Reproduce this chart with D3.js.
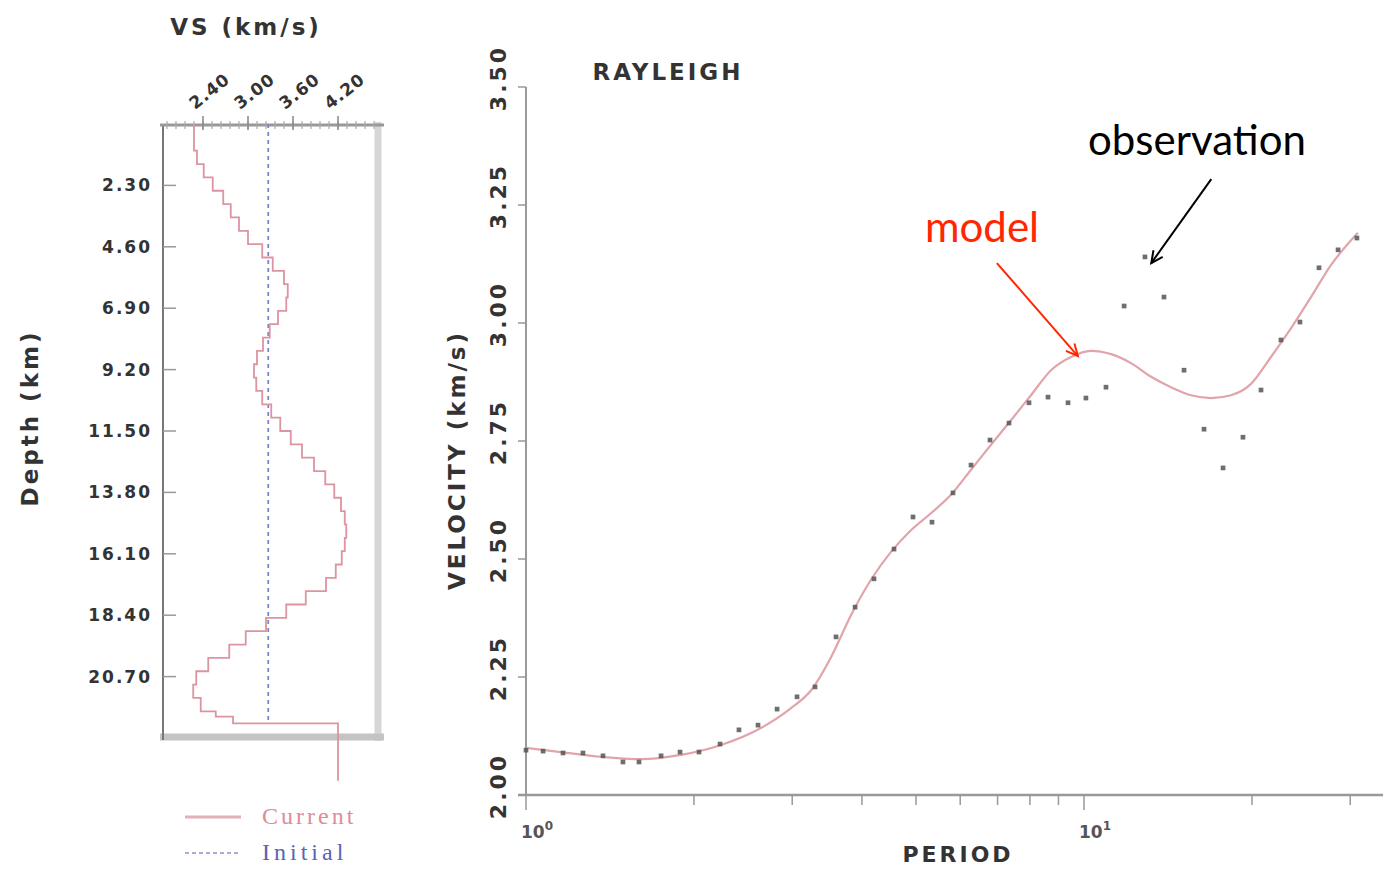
<!DOCTYPE html>
<meta charset="utf-8">
<script src="https://d3js.org/d3.v7.min.js"></script>
<style>
  body { margin: 0; background: #fff; }
</style>

<div id="my_dataviz"></div>
<script>

  // ---- left panel : VS profile (layer tops in km, velocity in km/s)
  var layerTop = [0, 0.5, 1, 1.5, 2, 2.5, 3, 3.5, 4, 4.5, 5, 5.5, 6, 6.5, 7, 7.5, 8, 8.5, 9, 9.5,
    10, 10.5, 11, 11.5, 12, 12.5, 13, 13.5, 14, 14.5, 15, 15.5, 16, 16.5, 17, 17.5, 18, 18.5,
    19, 19.5, 20, 20.5, 21, 21.5, 22, 22.2, 22.45];
  var vsCurrent = [2.28, 2.28, 2.32, 2.41, 2.53, 2.67, 2.77, 2.88, 3.00, 3.19, 3.33, 3.48, 3.53, 3.51,
    3.40, 3.29, 3.20, 3.12, 3.08, 3.11, 3.19, 3.31, 3.43, 3.57, 3.72, 3.88, 4.03, 4.15, 4.24, 4.29,
    4.31, 4.29, 4.25, 4.17, 4.04, 3.77, 3.51, 3.24, 2.97, 2.75, 2.47, 2.31, 2.27, 2.37, 2.57, 2.80, 4.20];
  var halfspaceBottom = 24.6;
  var vsInitial = 3.27;
  var initialBottom = 22.45;
  var vsTicks = [2.40, 3.00, 3.60, 4.20];
  var depthTicks = [2.3, 4.6, 6.9, 9.2, 11.5, 13.8, 16.1, 18.4, 20.7];

  // ---- right panel : Rayleigh dispersion curve
  var obsPeriod = [1.00, 1.073, 1.165, 1.265, 1.374, 1.492, 1.594, 1.746, 1.888, 2.042, 2.227, 2.408,
    2.605, 2.818, 3.060, 3.296, 3.594, 3.888, 4.204, 4.566, 4.938, 5.341, 5.824, 6.274, 6.785,
    7.338, 7.969, 8.620, 9.362, 10.08, 10.95, 11.80, 12.86, 13.91, 15.11, 16.41, 17.75, 19.27,
    20.76, 22.54, 24.38, 26.37, 28.53, 30.84];
  var obsVel = [2.095, 2.093, 2.089, 2.089, 2.083, 2.070, 2.070, 2.083, 2.091, 2.091, 2.108, 2.138,
    2.148, 2.182, 2.208, 2.229, 2.335, 2.398, 2.458, 2.521, 2.589, 2.578, 2.640, 2.699, 2.752,
    2.788, 2.831, 2.843, 2.831, 2.841, 2.864, 3.036, 3.140, 3.055, 2.900, 2.775, 2.693, 2.758,
    2.858, 2.964, 3.002, 3.117, 3.155, 3.180];
  var modelPeriod = [1.00, 1.155, 1.363, 1.607, 1.896, 2.236, 2.637, 2.985, 3.243, 3.521, 3.823, 4.152,
    4.509, 4.897, 5.318, 5.775, 6.274, 6.813, 7.399, 8.035, 8.729, 9.478, 10.29, 11.18, 12.14,
    13.19, 14.32, 15.55, 16.89, 18.34, 19.92, 21.63, 23.50, 25.52, 27.72, 30.97];
  var modelVel = [2.100, 2.091, 2.081, 2.076, 2.085, 2.106, 2.142, 2.184, 2.222, 2.292, 2.381, 2.456,
    2.515, 2.561, 2.597, 2.636, 2.689, 2.742, 2.794, 2.847, 2.900, 2.928, 2.941, 2.934, 2.915,
    2.886, 2.864, 2.847, 2.841, 2.847, 2.871, 2.928, 2.989, 3.055, 3.123, 3.191];
  var periodTicks = [1, 2, 3, 4, 5, 6, 7, 8, 9, 10, 20, 30];
  var velTicks = [2.00, 2.25, 2.50, 2.75, 3.00, 3.25, 3.50];

  var W = 1383, H = 869;
  var svg = d3.select("#my_dataviz")
    .append("svg")
    .attr("width", W)
    .attr("height", H)
    .style("font-family", "DejaVu Sans");

  svg.append("rect").attr("width", W).attr("height", H).attr("fill", "#fff");

  // =================== LEFT PANEL ===================
  var xVs = d3.scaleLinear().domain([1.867, 4.773]).range([163, 381]);
  var yDep = d3.scaleLinear().domain([0, 23]).range([124, 738]);

  var left = svg.append("g");

  // frame: light shaded right and bottom edges, darker left and top
  left.append("line").attr("x1", 378).attr("x2", 378).attr("y1", 122).attr("y2", 741)
    .attr("stroke", "#d6d6d6").attr("stroke-width", 7);
  left.append("line").attr("x1", 160).attr("x2", 384).attr("y1", 737).attr("y2", 737)
    .attr("stroke", "#c4c4c4").attr("stroke-width", 7);
  left.append("line").attr("x1", 163).attr("x2", 163).attr("y1", 124).attr("y2", 740)
    .attr("stroke", "#777").attr("stroke-width", 2);
  left.append("line").attr("x1", 160).attr("x2", 384).attr("y1", 125).attr("y2", 125)
    .attr("stroke", "#999").attr("stroke-width", 3);

  // top axis: minor + major ticks
  var minor = d3.range(1.92, 4.75, 0.12);
  left.selectAll(".minx").data(minor).enter().append("line")
    .attr("x1", function (d) { return xVs(d); }).attr("x2", function (d) { return xVs(d); })
    .attr("y1", 121).attr("y2", 129).attr("stroke", "#aaa").attr("stroke-width", 1.2);
  left.selectAll(".majx").data(vsTicks).enter().append("line")
    .attr("x1", function (d) { return xVs(d); }).attr("x2", function (d) { return xVs(d); })
    .attr("y1", 116).attr("y2", 130).attr("stroke", "#888").attr("stroke-width", 1.5);
  left.selectAll(".labx").data(vsTicks).enter().append("text")
    .attr("transform", function (d) { return "translate(" + (xVs(d) - 8) + ",110) rotate(-38)"; })
    .attr("font-size", 17).attr("font-weight", "bold").attr("letter-spacing", 1)
    .attr("fill", "#333")
    .text(function (d) { return d.toFixed(2); });

  left.append("text").attr("x", 246).attr("y", 35).attr("text-anchor", "middle")
    .attr("font-size", 23).attr("font-weight", "bold").attr("letter-spacing", 3)
    .attr("fill", "#333").text("VS (km/s)");

  // depth axis
  left.selectAll(".ticky").data(depthTicks).enter().append("line")
    .attr("x1", 163).attr("x2", 176)
    .attr("y1", function (d) { return yDep(d); }).attr("y2", function (d) { return yDep(d); })
    .attr("stroke", "#999").attr("stroke-width", 1.5);
  left.selectAll(".laby").data(depthTicks).enter().append("text")
    .attr("x", 152).attr("y", function (d) { return yDep(d) + 6; })
    .attr("text-anchor", "end")
    .attr("font-size", 17).attr("font-weight", "bold").attr("letter-spacing", 2)
    .attr("fill", "#333")
    .text(function (d) { return d.toFixed(2); });

  left.append("text").attr("transform", "translate(38,418) rotate(-90)")
    .attr("text-anchor", "middle")
    .attr("font-size", 23).attr("font-weight", "bold").attr("letter-spacing", 3)
    .attr("fill", "#333").text("Depth (km)");

  // initial model (dashed)
  left.append("line")
    .attr("x1", xVs(vsInitial)).attr("x2", xVs(vsInitial))
    .attr("y1", yDep(0)).attr("y2", yDep(initialBottom))
    .attr("stroke", "#7c86cc").attr("stroke-width", 1.8)
    .attr("stroke-dasharray", "4,4");

  // current model (staircase)
  var prof = layerTop.map(function (d, i) { return [vsCurrent[i], d]; });
  prof.push([vsCurrent[vsCurrent.length - 1], halfspaceBottom]);
  var stepLine = d3.line()
    .x(function (d) { return xVs(d[0]); })
    .y(function (d) { return yDep(d[1]); })
    .curve(d3.curveStepBefore);
  left.append("path").datum(prof)
    .attr("fill", "none").attr("stroke", "#dc95a0").attr("stroke-width", 1.8)
    .attr("d", stepLine);

  // legend
  left.append("line").attr("x1", 185).attr("x2", 241).attr("y1", 817).attr("y2", 817)
    .attr("stroke", "#e2b0b6").attr("stroke-width", 3);
  left.append("text").attr("x", 262).attr("y", 824)
    .attr("font-family", "Liberation Serif").attr("font-size", 24).attr("letter-spacing", 3)
    .attr("fill", "#dc8c9a").text("Current");
  left.append("line").attr("x1", 185).attr("x2", 241).attr("y1", 853).attr("y2", 853)
    .attr("stroke", "#8a92c8").attr("stroke-width", 1.5).attr("stroke-dasharray", "4,3");
  left.append("text").attr("x", 262).attr("y", 860)
    .attr("font-family", "Liberation Serif").attr("font-size", 24).attr("letter-spacing", 4)
    .attr("fill", "#5a64b2").text("Initial");

  // =================== RIGHT PANEL ===================
  var xP = d3.scaleLog().domain([1, 40]).range([526, 526 + 558 * Math.log10(40)]);
  var yV = d3.scaleLinear().domain([2.0, 3.5]).range([795, 87]);

  var right = svg.append("g");

  right.append("line").attr("x1", 526).attr("x2", 526).attr("y1", yV(3.5)).attr("y2", 796)
    .attr("stroke", "#999").attr("stroke-width", 2);
  right.append("line").attr("x1", 518).attr("x2", W).attr("y1", 795).attr("y2", 795)
    .attr("stroke", "#999").attr("stroke-width", 2.5);

  right.selectAll(".vt").data(velTicks).enter().append("line")
    .attr("x1", 518).attr("x2", 526)
    .attr("y1", function (d) { return yV(d); }).attr("y2", function (d) { return yV(d); })
    .attr("stroke", "#999").attr("stroke-width", 1.5);
  right.selectAll(".vl").data(velTicks).enter().append("text")
    .attr("transform", function (d) { return "translate(506," + (yV(d) - 9) + ") rotate(-90)"; })
    .attr("text-anchor", "middle")
    .attr("font-size", 22).attr("font-weight", "bold").attr("letter-spacing", 3)
    .attr("fill", "#333")
    .text(function (d) { return d.toFixed(2); });

  right.selectAll(".pt").data(periodTicks).enter().append("line")
    .attr("x1", function (d) { return xP(d); }).attr("x2", function (d) { return xP(d); })
    .attr("y1", 795).attr("y2", function (d) { return (d === 1 || d === 10) ? 810 : 805; })
    .attr("stroke", "#999").attr("stroke-width", 1.5);

  [[1, "0"], [10, "1"]].forEach(function (p) {
    var t = right.append("text").attr("x", xP(p[0]) - 5).attr("y", 838)
      .attr("font-size", 17).attr("font-weight", "bold").attr("fill", "#555");
    t.append("tspan").text("10");
    t.append("tspan").attr("dy", -8).attr("font-size", 12).text(p[1]);
  });

  right.append("text").attr("x", 668).attr("y", 80).attr("text-anchor", "middle")
    .attr("font-size", 23).attr("font-weight", "bold").attr("letter-spacing", 3)
    .attr("fill", "#333").text("RAYLEIGH");
  right.append("text").attr("x", 958).attr("y", 862).attr("text-anchor", "middle")
    .attr("font-size", 22).attr("font-weight", "bold").attr("letter-spacing", 3)
    .attr("fill", "#333").text("PERIOD");
  right.append("text").attr("transform", "translate(465,460) rotate(-90)")
    .attr("text-anchor", "middle")
    .attr("font-size", 23).attr("font-weight", "bold").attr("letter-spacing", 3)
    .attr("fill", "#333").text("VELOCITY (km/s)");

  // model curve
  var model = modelPeriod.map(function (d, i) { return [d, modelVel[i]]; });
  var curve = d3.line()
    .x(function (d) { return xP(d[0]); })
    .y(function (d) { return yV(d[1]); })
    .curve(d3.curveMonotoneX);
  right.append("path").datum(model)
    .attr("fill", "none").attr("stroke", "#e2a4ab").attr("stroke-width", 2.2)
    .attr("d", curve);

  // observations
  var obs = obsPeriod.map(function (d, i) { return [d, obsVel[i]]; });
  right.selectAll(".obs").data(obs).enter().append("path")
    .attr("transform", function (d) { return "translate(" + xP(d[0]) + "," + yV(d[1]) + ")"; })
    .attr("d", d3.symbol().type(d3.symbolSquare).size(22))
    .attr("fill", "#555").attr("opacity", 0.85);

  // annotations
  function arrow(g, x1, y1, x2, y2, color) {
    var a = Math.atan2(y2 - y1, x2 - x1), L = 13, s = 0.45;
    g.append("line").attr("x1", x1).attr("y1", y1).attr("x2", x2).attr("y2", y2)
      .attr("stroke", color).attr("stroke-width", 2);
    g.append("path")
      .attr("d", "M" + (x2 - L * Math.cos(a - s)) + "," + (y2 - L * Math.sin(a - s)) +
        "L" + x2 + "," + y2 +
        "L" + (x2 - L * Math.cos(a + s)) + "," + (y2 - L * Math.sin(a + s)))
      .attr("fill", "none").attr("stroke", color).attr("stroke-width", 2);
  }
  var modelTip = [xP(9.75), yV(2.93)];
  var obsTip = [xP(13.2), yV(3.127)];
  arrow(right, modelTip[0] - 81, modelTip[1] - 93, modelTip[0], modelTip[1], "#ff2600");
  arrow(right, obsTip[0] + 60, obsTip[1] - 84, obsTip[0], obsTip[1], "#000");

  right.append("text").attr("x", 925).attr("y", 242)
    .attr("font-family", "Lato").attr("font-size", 42).attr("fill", "#ff2600").text("model");
  right.append("text").attr("x", 1088).attr("y", 155)
    .attr("font-family", "Lato").attr("font-size", 42).attr("fill", "#000").text("observation");

</script>
